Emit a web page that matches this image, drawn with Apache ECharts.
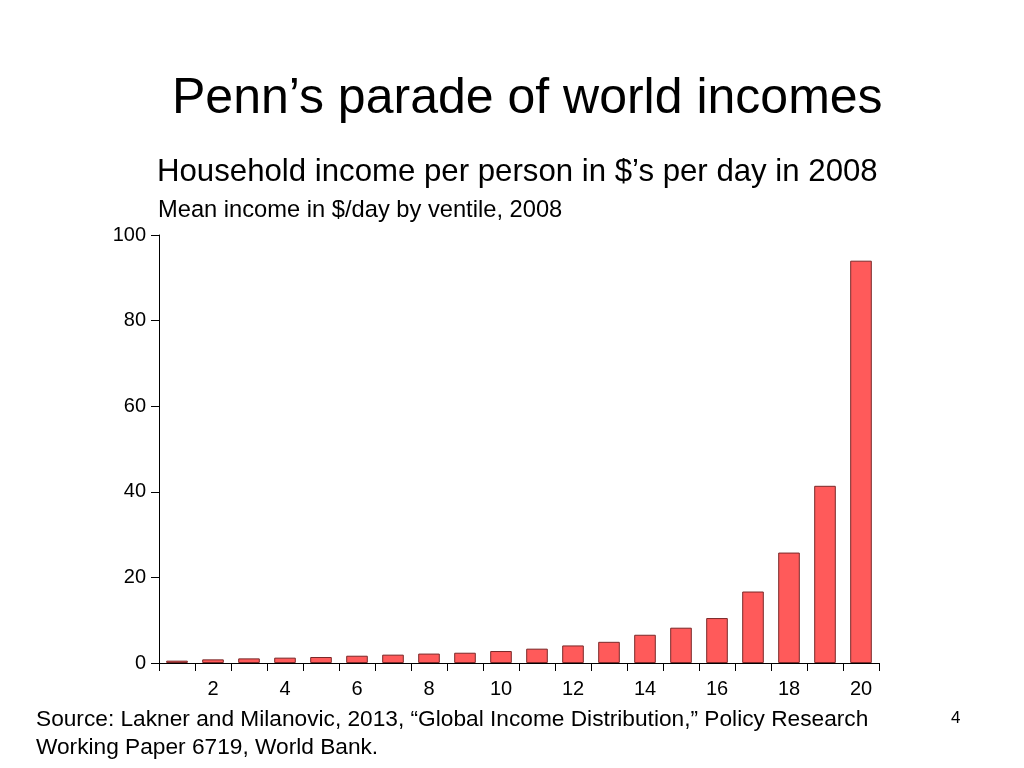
<!DOCTYPE html>
<html>
<head>
<meta charset="utf-8">
<script src="https://cdn.jsdelivr.net/npm/echarts@6/dist/echarts.min.js"></script>
<style>html,body{margin:0;padding:0;background:#fff}#c{width:1024px;height:768px}</style>
</head>
<body>
<div id="c"></div>
<script>
var categories = ['1','2','3','4','5','6','7','8','9','10','11','12','13','14','15','16','17','18','19','20'];
var incomes = [0.55, 0.85, 1.08, 1.25, 1.4, 1.7, 1.95, 2.2, 2.4, 2.8, 3.35, 4.1, 4.95, 6.6, 8.25, 10.5, 16.7, 25.8, 41.4, 94.0];
var yTicks = [0, 20, 40, 60, 80, 100];

var FONT = '"Liberation Sans", Arial, Helvetica, sans-serif';
var chart = echarts.init(document.getElementById('c'), null, {renderer: 'canvas'});
chart.setOption({
  animation: false,
  backgroundColor: '#ffffff',
  textStyle: {fontFamily: FONT},
  grid: {left: 159, right: 145, top: 235, bottom: 105, containLabel: false},
  xAxis: {
    type: 'category',
    data: categories,
    boundaryGap: true,
    axisLine: {lineStyle: {color: '#000', width: 1}},
    axisTick: {show: true, interval: 0, length: 8, lineStyle: {color: '#000'}},
    axisLabel: {
      interval: function (i) { return i % 2 === 1; },
      color: '#000', fontSize: 20, fontFamily: FONT, margin: 16
    },
    splitLine: {show: false}
  },
  yAxis: {
    type: 'value',
    min: yTicks[0], max: yTicks[yTicks.length - 1], interval: 20,
    axisLine: {show: true, lineStyle: {color: '#000', width: 1}},
    axisTick: {show: true, length: 8, lineStyle: {color: '#000'}},
    axisLabel: {color: '#000', fontSize: 20, fontFamily: FONT, margin: 13},
    splitLine: {show: false}
  },
  series: [{
    type: 'bar',
    data: incomes,
    barCategoryGap: '40%',
    itemStyle: {color: '#FF5A5A', borderColor: '#7A2828', borderWidth: 1}
  }],
  graphic: [
    {type: 'text', left: 172, top: 74, style: {text: 'Penn’s parade of world incomes', font: '50px ' + FONT, fill: '#000'}},
    {type: 'text', left: 157, top: 157, style: {text: 'Household income per person in $’s per day in 2008', font: '31.2px ' + FONT, fill: '#000'}},
    {type: 'text', left: 158, top: 198, style: {text: 'Mean income in $/day by ventile, 2008', font: '23.7px ' + FONT, fill: '#000'}},
    {type: 'text', left: 36, top: 706, style: {text: 'Source: Lakner and Milanovic, 2013, “Global Income Distribution,” Policy Research\nWorking Paper 6719, World Bank.', font: '22.7px ' + FONT, lineHeight: 28, fill: '#000'}},
    {type: 'text', left: 951, top: 710, style: {text: '4', font: '17px ' + FONT, fill: '#000'}}
  ]
});
</script>
</body>
</html>
